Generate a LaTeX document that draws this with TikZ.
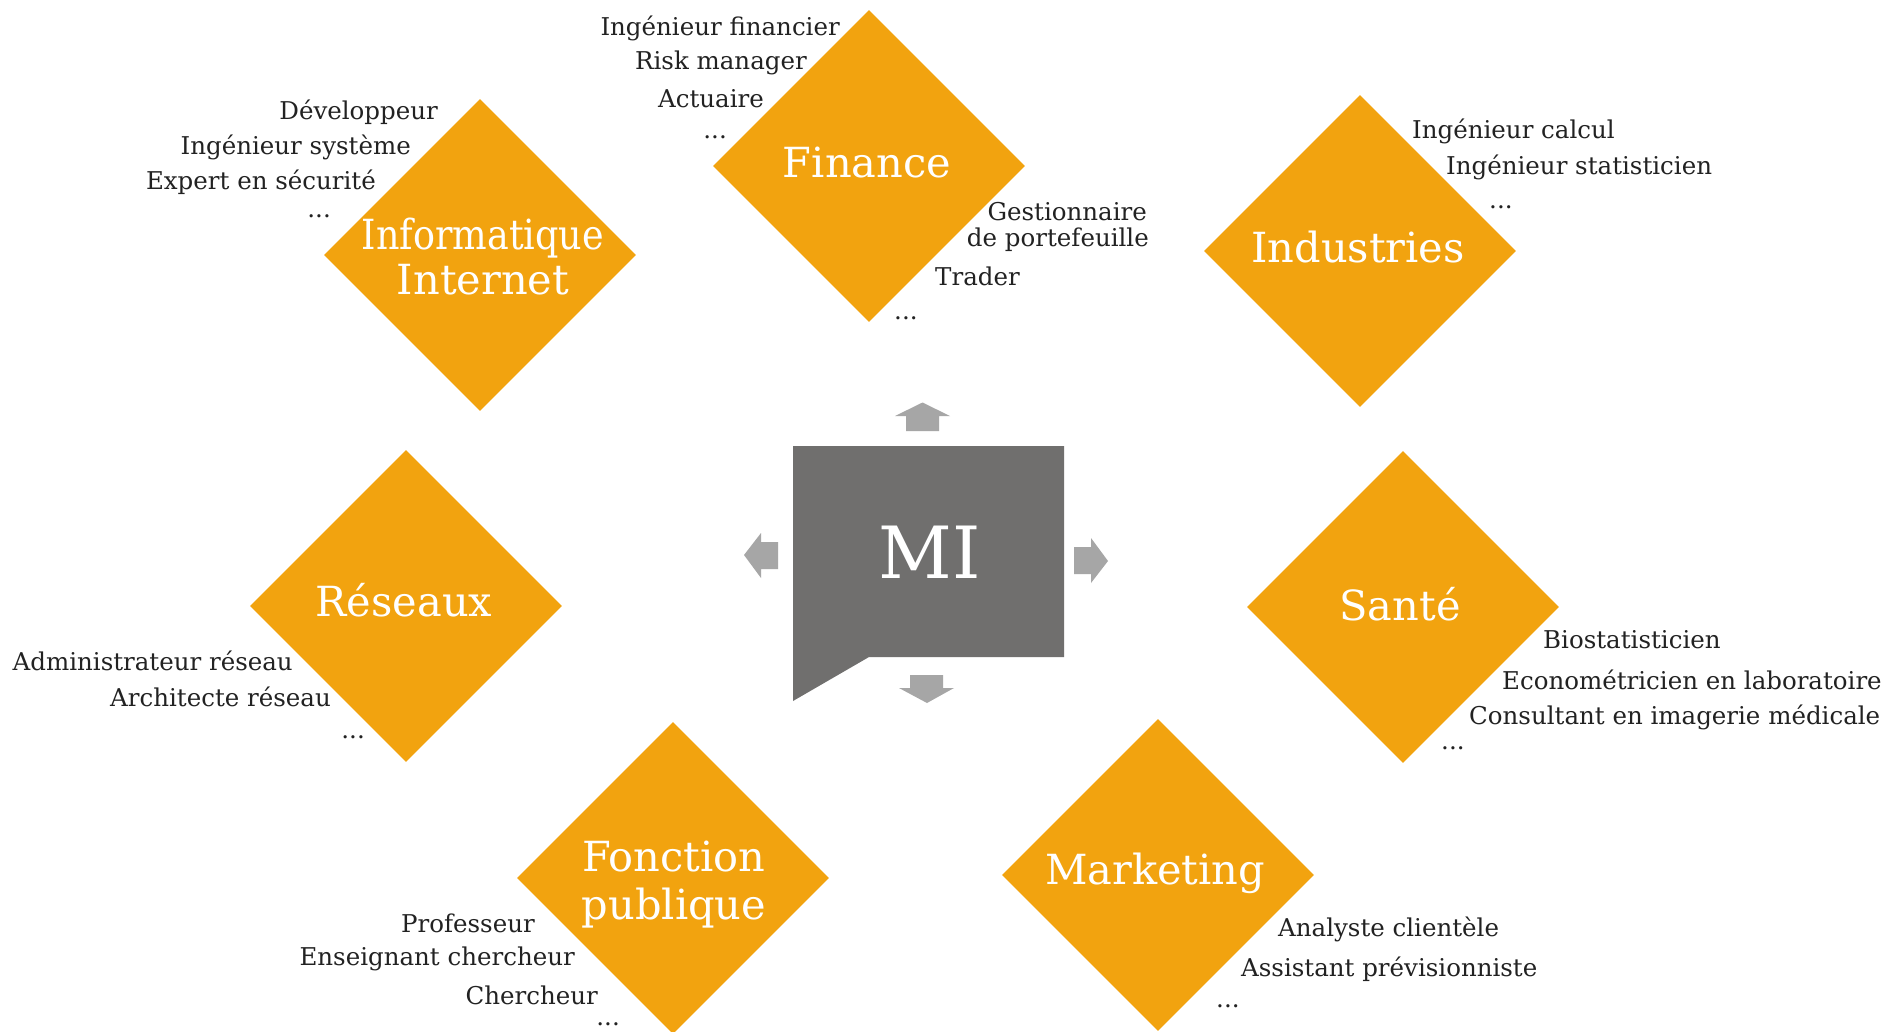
\documentclass[tikz,border=0pt]{standalone}
\usepackage{fontspec}
\setmainfont{DejaVu Serif}
\usetikzlibrary{shapes.geometric}
\definecolor{orng}{HTML}{F2A30F}
\definecolor{boxgray}{HTML}{706F6E}
\definecolor{arrgray}{HTML}{A6A6A6}
\definecolor{txt}{HTML}{222222}
\begin{document}
\begin{tikzpicture}[x=1pt,y=-1pt,
  dia/.style={diamond, aspect=1, fill=orng, minimum width=312pt, minimum height=312pt, inner sep=0pt},
  dlabel/.style={text=white, font=\fontsize{41.5}{44}\selectfont, inner sep=0pt},
  item/.style={text=txt, font=\fontsize{24.5}{28}\selectfont, inner sep=0pt},
  itemr/.style={item, anchor=east},
  iteml/.style={item, anchor=west},
  blockarrow/.style={fill=arrgray}
]
\useasboundingbox[fill=white] (0,0) rectangle (1901,1031);

% diamonds
\node[dia] (dinfo) at (480,255) {};
\node[dia] (dfin) at (869,166) {};
\node[dia] (dind) at (1360,251) {};
\node[dia] (dres) at (406,606) {};
\node[dia] (dsan) at (1403,607) {};
\node[dia] (dfon) at (673,878) {};
\node[dia] (dmar) at (1158,875) {};

% central box
\fill[boxgray] (793,446) -- (1064,446) -- (1064,657) -- (869,657) -- (793,701) -- cycle;
\node[text=white, font=\fontsize{72}{76}\selectfont, inner sep=0pt] (mi) at (930,552) {MI};

% block arrows
\fill[blockarrow] (906,431) -- (906,416) -- (895,416) -- (922.5,402.5) -- (950,416) -- (939,416) -- (939,431) -- cycle;
\fill[blockarrow] (778,542) -- (761,542) -- (761,533) -- (744,555) -- (761,578) -- (761,569) -- (778,569) -- cycle;
\fill[blockarrow] (1074,547) -- (1091,547) -- (1091,538) -- (1108,561) -- (1091,583) -- (1091,574) -- (1074,574) -- cycle;
\fill[blockarrow] (910,675) -- (943,675) -- (943,688) -- (954,688) -- (927,703) -- (899,688) -- (910,688) -- cycle;

% diamond labels
\node[dlabel] (linfo1) at (483,238) {\scalebox{0.88}[1]{Informatique}};
\node[dlabel] (linfo2) at (483,280) {Internet};
\node[dlabel] (lfin) at (867,163) {Finance};
\node[dlabel] (lind) at (1358,247) {Industries};
\node[dlabel] (lres) at (404,600) {Réseaux};
\node[dlabel] (lsan) at (1400,604) {Santé};
\node[dlabel] (lfon1) at (674,857) {Fonction};
\node[dlabel] (lfon2) at (674,908) {publique};
\node[dlabel] (lmar) at (1155,873) {Marketing};

% Informatique items
\node[itemr] (i1) at (438,112) {Développeur};
\node[itemr] (i2) at (411,147) {Ingénieur système};
\node[itemr] (i3) at (376,182) {Expert en sécurité};
\node[itemr] (i4) at (331,216) {...};

% Finance items
\node[itemr] (f1) at (840,28) {Ingénieur financier};
\node[itemr] (f2) at (807,63) {Risk manager};
\node[itemr] (f3) at (764,99) {Actuaire};
\node[itemr] (f4) at (727,137) {...};
\node[itemr] (f5) at (1147,212) {Gestionnaire};
\node[itemr] (f6) at (1149,240) {de portefeuille};
\node[iteml] (f7) at (935,276) {Trader};
\node[iteml] (f8) at (894,318) {...};

% Industries items
\node[iteml] (n1) at (1412,131) {Ingénieur calcul};
\node[iteml] (n2) at (1446,167) {Ingénieur statisticien};
\node[iteml] (n3) at (1489,207) {...};

% Réseaux items
\node[itemr] (r1) at (293,661) {Administrateur réseau};
\node[itemr] (r2) at (331,697) {Architecte réseau};
\node[itemr] (r3) at (365,737) {...};

% Santé items
\node[iteml] (s1) at (1543,640) {Biostatisticien};
\node[iteml] (s2) at (1502,680) {Econométricien en laboratoire};
\node[iteml] (s3) at (1469,717) {Consultant en imagerie médicale};
\node[iteml] (s4) at (1441,748) {...};

% Fonction publique items
\node[itemr] (p1) at (535,923) {Professeur};
\node[itemr] (p2) at (575,959) {Enseignant chercheur};
\node[itemr] (p3) at (598,995) {Chercheur};
\node[itemr] (p4) at (620,1024) {...};

% Marketing items
\node[iteml] (m1) at (1278,929) {Analyste clientèle};
\node[iteml] (m2) at (1241,969) {Assistant prévisionniste};
\node[iteml] (m3) at (1216,1006) {...};
\end{tikzpicture}
\end{document}
